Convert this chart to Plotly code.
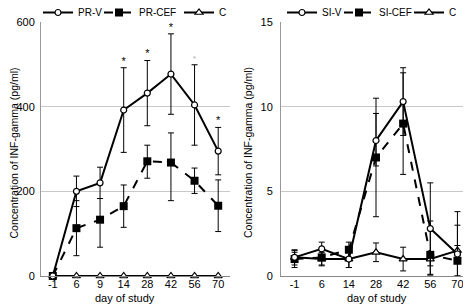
import plotly.graph_objects as go
from plotly.subplots import make_subplots

# ---- data: left panel (PR) ----
days_pr = ["-1", "6", "9", "14", "28", "42", "56", "70"]
pr_v = [0, 200, 220, 392, 432, 477, 404, 295]
pr_v_err = [0, 36, 37, 100, 77, 95, 95, 56]
pr_cef = [0, 113, 133, 165, 271, 268, 225, 166]
pr_cef_err_plus = [0, 65, 50, 50, 38, 70, 30, 61]
pr_cef_err_minus = [0, 65, 65, 50, 40, 90, 30, 61]
pr_c = [0, 0, 0, 0, 0, 0, 0, 0]
pr_stars = ["", "", "", "*", "*", "*", "*", "*"]

# ---- data: right panel (SI) ----
days_si = ["-1", "6", "14", "28", "42", "56", "70"]
si_v = [1.1, 1.6, 1.0, 8.0, 10.3, 2.8, 1.3]
si_v_err_plus = [0.45, 0.4, 0.5, 2.5, 2.0, 2.7, 2.5]
si_v_err_minus = [0.45, 0.4, 0.5, 1.5, 2.0, 2.7, 1.3]
si_cef = [1.0, 1.1, 1.55, 7.0, 9.0, 1.25, 0.9]
si_cef_err_plus = [0.5, 0.45, 0.45, 2.6, 3.0, 2.0, 2.1]
si_cef_err_minus = [0.5, 0.45, 0.45, 3.5, 3.0, 1.2, 0.9]
si_c = [1.1, 1.0, 1.0, 1.4, 1.0, 1.0, 1.5]
si_c_err = [0.3, 0.4, 0.5, 0.55, 0.7, 0.4, 0.3]

Y_TITLE = "Concentration of INF-gamma (pg/ml)"
X_TITLE = "day of study"

FONT = "Liberation Sans, Arial, sans-serif"
W, H = 463, 299          # page body has an 8px margin
T, B = 14, 31
PH = H - T - B

fig = make_subplots(rows=1, cols=2, horizontal_spacing=0.1)


def eb(plus, minus=None):
    d = dict(type="data", array=plus, color="black", thickness=1, width=3, visible=True)
    if minus is not None:
        d["symmetric"] = False
        d["arrayminus"] = minus
    return d


circle = dict(symbol="circle", size=6, color="white", line=dict(color="black", width=1.2))
square = dict(symbol="square", size=8, color="black")
tri = dict(symbol="triangle-up", size=7, color="white", line=dict(color="black", width=1.2))

# left
fig.add_trace(go.Scatter(x=days_pr, y=pr_c, name="C", mode="lines+markers",
                         line=dict(color="black", width=2), marker=tri,
                         cliponaxis=False, legend="legend", legendrank=3), 1, 1)
fig.add_trace(go.Scatter(x=days_pr, y=pr_cef, name="PR-CEF", mode="lines+markers",
                         line=dict(color="black", width=2, dash="dash"), marker=square,
                         error_y=eb(pr_cef_err_plus, pr_cef_err_minus), legendwidth=35,
                         cliponaxis=False, legend="legend", legendrank=2), 1, 1)
fig.add_trace(go.Scatter(x=days_pr, y=pr_v, name="PR-V", mode="lines+markers",
                         line=dict(color="black", width=2), marker=circle,
                         error_y=eb(pr_v_err), legendwidth=16,
                         cliponaxis=False, legend="legend", legendrank=1), 1, 1)
star_colors = ["#000000"] * 6 + ["#aaaaaa", "#000000"]
star_sizes = [11] * 6 + [8, 11]
fig.add_trace(go.Scatter(x=days_pr, y=[v + e + 14 for v, e in zip(pr_v, pr_v_err)],
                         text=pr_stars, mode="text", showlegend=False,
                         textfont=dict(size=star_sizes, color=star_colors, family=FONT),
                         textposition="middle center", cliponaxis=False), 1, 1)

# right
fig.add_trace(go.Scatter(x=days_si, y=si_c, name="C", mode="lines+markers",
                         line=dict(color="black", width=2), marker=tri,
                         error_y=eb(si_c_err),
                         cliponaxis=False, legend="legend2", legendrank=3), 1, 2)
fig.add_trace(go.Scatter(x=days_si, y=si_cef, name="SI-CEF", mode="lines+markers",
                         line=dict(color="black", width=2, dash="dash"), marker=square,
                         error_y=eb(si_cef_err_plus, si_cef_err_minus), legendwidth=25,
                         cliponaxis=False, legend="legend2", legendrank=2), 1, 2)
fig.add_trace(go.Scatter(x=days_si, y=si_v, name="SI-V", mode="lines+markers",
                         line=dict(color="black", width=2), marker=circle,
                         error_y=eb(si_v_err_plus, si_v_err_minus), legendwidth=12,
                         cliponaxis=False, legend="legend2", legendrank=1), 1, 2)

axis_font = dict(family=FONT, size=11, color="black")
common_x = dict(type="category", showgrid=False, showline=True, linecolor="#888888",
                linewidth=1, ticks="", tickfont=axis_font, zeroline=False, automargin=False,
                ticklabelstandoff=-2)
common_y = dict(showgrid=True, gridcolor="#c8c8c8", gridwidth=1, showline=True,
                linecolor="#999999", linewidth=1, ticks="", tickfont=axis_font,
                zeroline=False, automargin=False)

fig.update_xaxes(**common_x)
fig.update_yaxes(**common_y)
fig.update_xaxes(range=[-0.5, 7.5], domain=[33 / W, 222 / W], row=1, col=1)
fig.update_xaxes(range=[-0.5, 6.5], domain=[273 / W, 1.0], row=1, col=2)
fig.update_yaxes(range=[0, 600], tickvals=[0, 200, 400, 600], ticklabelstandoff=3, row=1, col=1)
fig.update_yaxes(range=[0, 15], tickvals=[0, 5, 10, 15], ticklabelstandoff=5, row=1, col=2)

title_font = dict(family=FONT, size=10.5, color="black")
ann = []
for xc in (5.5, 240):
    ann.append(dict(text=Y_TITLE, xref="paper", yref="paper", x=xc / W, y=(H - B - 145) / PH,
                    xanchor="center", yanchor="middle", textangle=-90, showarrow=False,
                    font=title_font))
for xc in (117, 369):
    ann.append(dict(text=X_TITLE, xref="paper", yref="paper", x=xc / W, y=-(290 - (H - B)) / PH,
                    xanchor="center", yanchor="middle", showarrow=False, font=axis_font))

leg = dict(orientation="h", yanchor="top", xanchor="left", y=1.0945,
           font=dict(family=FONT, size=10, color="black"), bgcolor="rgba(0,0,0,0)",
           itemwidth=30, tracegroupgap=0, traceorder="normal")
fig.update_layout(
    width=W, height=H,
    margin=dict(l=0, r=0, t=T, b=B, autoexpand=False),
    plot_bgcolor="white", paper_bgcolor="white",
    font=dict(family=FONT, size=11, color="black"),
    legend=dict(leg, x=30 / W),
    legend2=dict(leg, x=274 / W),
    annotations=ann,
)

fig.write_html("out.html")
